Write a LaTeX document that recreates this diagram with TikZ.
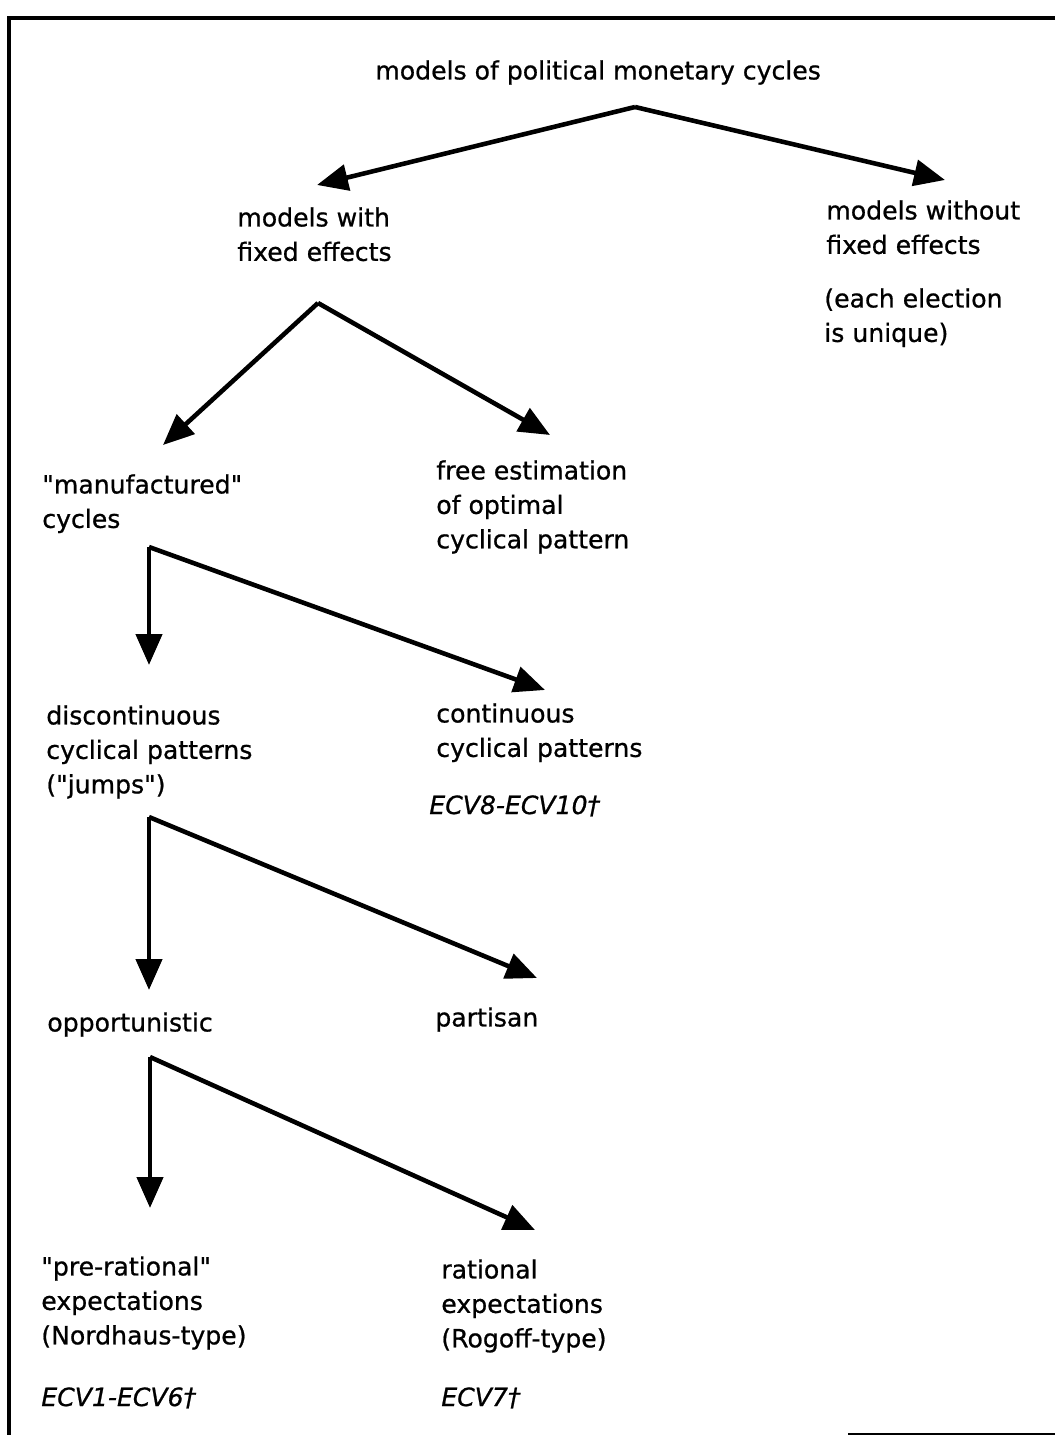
\documentclass[tikz,border=0pt]{standalone}
\usepackage{fontspec}
\setmainfont{DejaVu Sans}[FakeBold=0.8]
\usepackage{tikz}
\usetikzlibrary{arrows.meta,calc}

\begin{document}
\begin{tikzpicture}[x=0.02cm,y=-0.02cm,
  lbl/.style={anchor=north west,inner sep=0pt,align=left,
    font=\fontsize{14.3}{19.6}\selectfont},
  ecv/.style={lbl,font=\fontsize{14.3}{19.6}\selectfont\itshape},
  arr/.style={line width=2.6pt,-{Triangle[length=0.62cm,width=0.52cm]}}]
\useasboundingbox (0,0) rectangle (1055,1435);
% frame
\draw[line width=2.3pt] (1055,18) -- (9,18) -- (9,1435);
\draw[line width=1.2pt] (848,1434) -- (1055,1434);
% labels
\node[lbl] (root) at (375,60) {models of political monetary cycles};
\node[lbl] (fixed) at (237,207) {models with\\fixed effects};
\node[lbl] (nofixed) at (826,200) {models without\\fixed effects};
\node[lbl] (unique) at (824,288) {(each election\\is unique)};
\node[lbl] (manuf) at (42,474) {\textquotedbl manufactured\textquotedbl\\cycles};
\node[lbl] (free) at (436,460) {free estimation\\of optimal\\cyclical pattern};
\node[lbl] (discont) at (46,705) {discontinuous\\cyclical patterns\\(\textquotedbl jumps\textquotedbl)};
\node[lbl] (cont) at (436,703) {continuous\\cyclical patterns};
\node[ecv] (ecvcont) at (429,795) {ECV8-ECV10†};
\node[lbl] (opport) at (47,1012) {opportunistic};
\node[lbl] (partisan) at (435,1007) {partisan};
\node[lbl] (prerat) at (41,1256) {\textquotedbl pre-rational\textquotedbl\\expectations\\(Nordhaus-type)};
\node[lbl] (rat) at (441,1259) {rational\\expectations\\(Rogoff-type)};
\node[ecv] (ecvpre) at (41,1387) {ECV1-ECV6†};
\node[ecv] (ecvrat) at (441,1387) {ECV7†};
% branch points and arrow tips
\coordinate (forkroot) at (635,107);
\coordinate (forkfixed) at (318,303);
\coordinate (forkmanuf) at (149,547);
\coordinate (forkdisc) at (149,817);
\coordinate (forkopp) at (150,1057);
\draw[arr] (forkroot) -- (317,185);
\draw[arr] (forkroot) -- (945,180);
\draw[arr] (forkfixed) -- (163,445);
\draw[arr] (forkfixed) -- (550,435);
\draw[arr] (forkmanuf) -- (149,665);
\draw[arr] (forkmanuf) -- (545,690);
\draw[arr] (forkdisc) -- (149,990);
\draw[arr] (forkdisc) -- (537,978);
\draw[arr] (forkopp) -- (150,1208);
\draw[arr] (forkopp) -- (535,1230);
\end{tikzpicture}
\end{document}
